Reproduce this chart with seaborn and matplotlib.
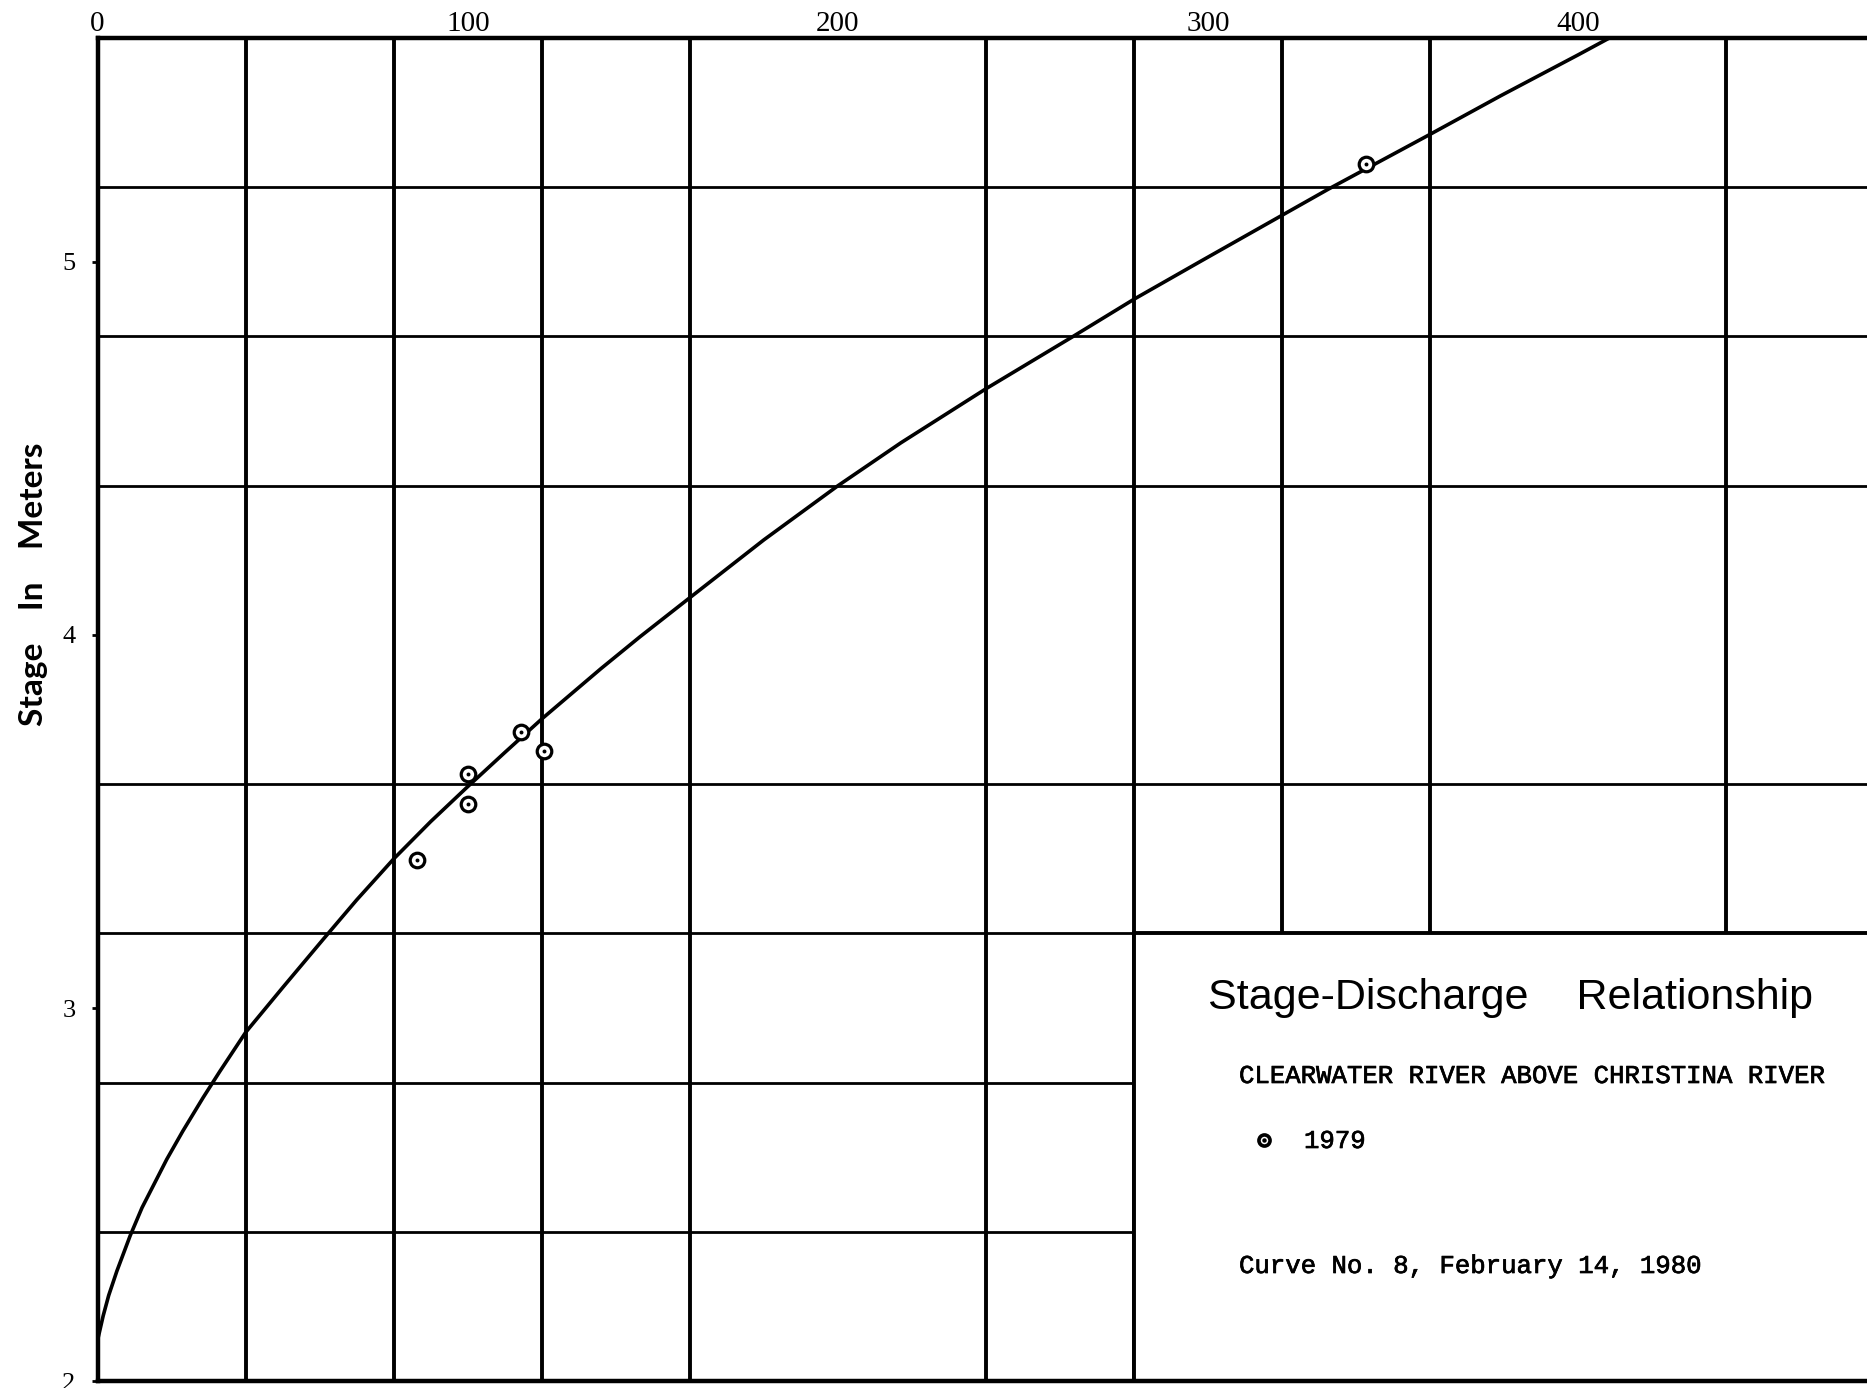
import matplotlib
matplotlib.use("Agg")
import matplotlib.pyplot as plt
import matplotlib.patheffects as pe
import seaborn as sns
import pandas as pd
from matplotlib.patches import Rectangle
from matplotlib.ticker import MultipleLocator, FixedLocator

# rating curve (discharge, stage in m)
curve_q = [0, 1.5, 3, 5.2, 8.8, 12, 18.7, 23, 28.5, 33, 40, 50, 61, 70, 80, 90,
           99.6, 110, 120, 136, 146.5, 160, 180, 200, 217, 240, 263.5, 280,
           297.7, 320, 332.5, 360, 379, 400, 408.4]
curve_h = [2.11, 2.175, 2.23, 2.295, 2.39, 2.465, 2.595, 2.67, 2.76, 2.83, 2.935,
           3.055, 3.185, 3.29, 3.40, 3.50, 3.59, 3.685, 3.775, 3.91, 3.995, 4.10,
           4.255, 4.40, 4.515, 4.66, 4.80, 4.90, 5.00, 5.125, 5.195, 5.342, 5.445,
           5.555, 5.60]

# 1979 measurements
meas_q = [86.3, 100.0, 100.1, 114.5, 120.7, 342.6]
meas_h = [3.397, 3.628, 3.546, 3.741, 3.690, 5.262]

x_ticks = [0, 100, 200, 300, 400]
y_ticks = [2, 3, 4, 5]

curve_df = pd.DataFrame({"q": curve_q, "h": curve_h})
meas_df = pd.DataFrame({"q": meas_q, "h": meas_h})

sns.set_theme(style="white")
plt.rcParams["font.family"] = ["Liberation Serif", "DejaVu Serif"]
plt.rcParams["text.color"] = "black"
plt.rcParams["axes.labelcolor"] = "black"
plt.rcParams["xtick.labelsize"] = 21
plt.rcParams["ytick.labelsize"] = 19

W, H = 1867, 1388
fig = plt.figure(figsize=(W / 100, H / 100), dpi=100)
ax = fig.add_axes([97.6 / W, 6.8 / H, 1 - 97.6 / W, (1381.2 - 38) / H])

ax.set_xlim(0, 478)
ax.set_ylim(2, 5.6)
ax.xaxis.tick_top()

# grid every 40 units / 0.4 m, labels on the round numbers
ax.xaxis.set_minor_locator(MultipleLocator(40))
ax.yaxis.set_minor_locator(FixedLocator([2.0 + 0.4 * i for i in range(10)]))
ax.set_xticks(x_ticks)
ax.set_yticks(y_ticks)
ax.set_xticklabels([str(v) for v in x_ticks])
ax.set_yticklabels([str(v) for v in y_ticks])
ax.set_axisbelow(True)
ax.xaxis.grid(True, which="minor", color="black", lw=2.8)
ax.yaxis.grid(True, which="minor", color="black", lw=2.0)
ax.xaxis.grid(False, which="major")
ax.yaxis.grid(False, which="major")

ax.tick_params(axis="x", which="major", length=0, pad=1, labelsize=21,
               colors="black")
ax.tick_params(axis="y", which="major", left=True, length=4, width=2, pad=12,
               labelsize=19, colors="black", direction="out")
ax.tick_params(which="minor", length=0)

for side in ["top", "left", "bottom"]:
    ax.spines[side].set_color("black")
    ax.spines[side].set_linewidth(3.2)
ax.spines["right"].set_visible(False)

# white panel holding the caption
ax.add_patch(Rectangle((280, 2), 220, 1.2, facecolor="white", edgecolor="black",
                       lw=2.8, zorder=1, clip_on=True))

sns.lineplot(data=curve_df, x="q", y="h", ax=ax, color="black", lw=2.6,
             estimator=None, sort=False, zorder=3)
sns.scatterplot(data=meas_df, x="q", y="h", ax=ax, marker="o", s=110,
                facecolor="white", edgecolor="black", linewidth=2.3, zorder=4)
sns.scatterplot(data=meas_df, x="q", y="h", ax=ax, marker="o", s=8,
                color="black", linewidth=0, zorder=5)

ax.set_xlabel("")
ax.set_ylabel("Stage    In    Meters", fontsize=24, family=["Lato", "DejaVu Sans"],
              fontweight="bold", color="black")
ax.yaxis.label.set_va("center")
ax.yaxis.set_label_coords(-0.036, 0.593)

# caption
fig.text(1208 / W, 1 - 1009 / H, "Stage-Discharge    Relationship",
         fontsize=31, family=["Liberation Sans", "DejaVu Sans"], va="baseline",
         color="black")
mono = ["Liberation Mono", "DejaVu Sans Mono"]
thick = [pe.withStroke(linewidth=0.5, foreground="black")]
fig.text(1239 / W, 1 - 1083 / H, "CLEARWATER RIVER ABOVE CHRISTINA RIVER",
         fontsize=18.5, family=mono, va="baseline", path_effects=thick)
ax.plot([1264 / W], [1 - 1140 / H], marker="o", ms=8, mfc="white", mec="black",
        mew=2.6, transform=fig.transFigure, clip_on=False)
ax.plot([1264 / W], [1 - 1140 / H], marker="o", ms=2.2, color="black",
        transform=fig.transFigure, clip_on=False)
fig.text(1304 / W, 1 - 1148 / H, "1979", fontsize=18.5, family=mono,
         va="baseline", path_effects=thick)
fig.text(1239 / W, 1 - 1273 / H, "Curve No. 8, February 14, 1980",
         fontsize=18.5, family=mono, va="baseline", path_effects=thick)

fig.savefig("out.png", dpi=100, facecolor="white")
